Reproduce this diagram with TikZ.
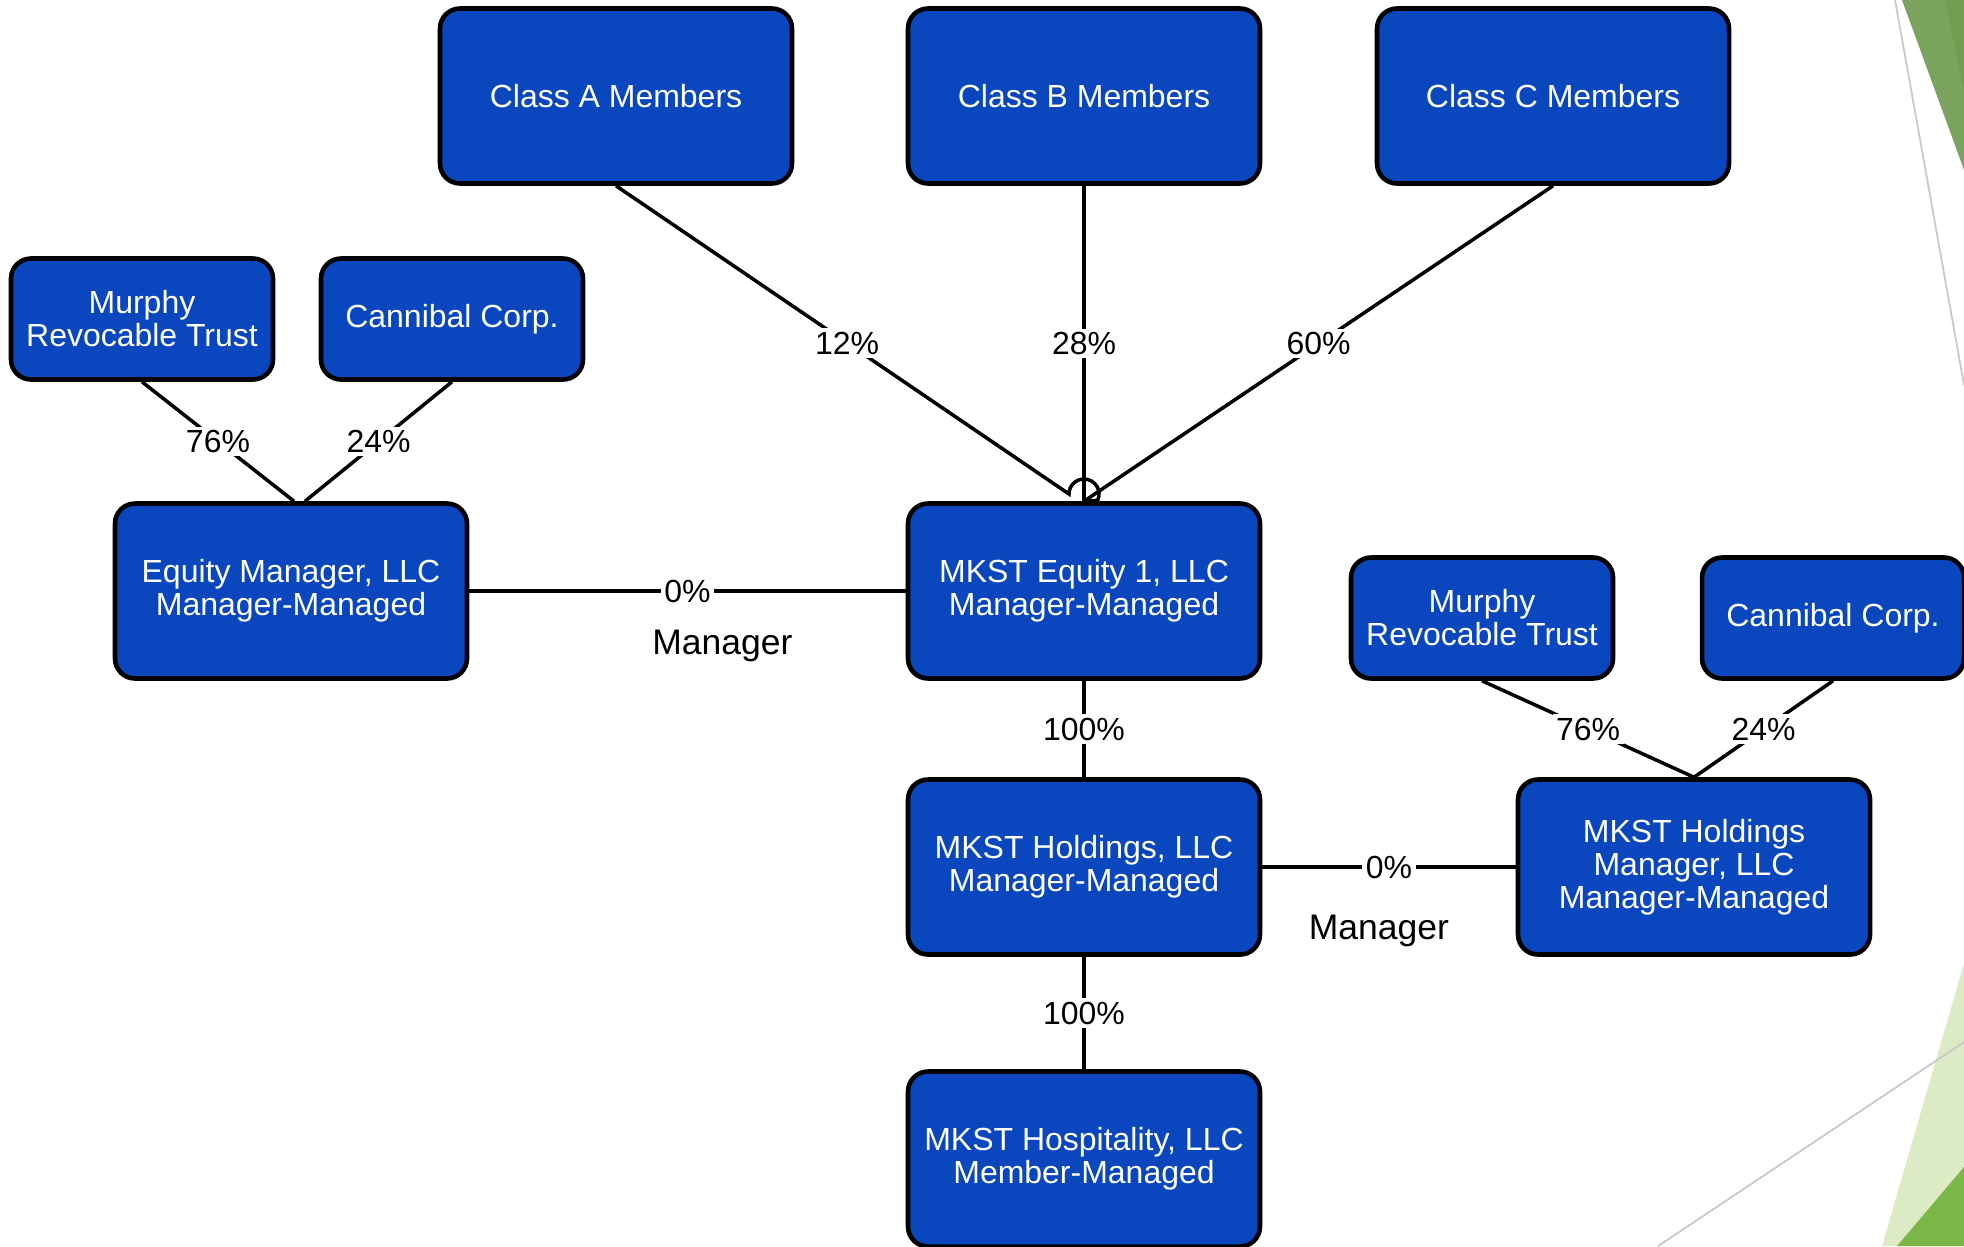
\documentclass[tikz,border=0pt]{standalone}
\usepackage{fontspec}
\setmainfont{Liberation Sans}
\usepackage{xcolor}
\usepackage{tikz}
\makeatletter
\renewcommand\small{%
  \@setfontsize\small{9.1pt}{9.4pt}%
}
\renewcommand\large{%
  \@setfontsize\large{10.1pt}{11pt}%
}
\makeatother
\definecolor{boxblue}{RGB}{10,70,190}
\definecolor{slidegreen}{RGB}{122,163,94}
\definecolor{slidegreenB}{RGB}{113,157,80}
\definecolor{palegreen}{RGB}{221,235,197}
\definecolor{leafgreen}{RGB}{122,182,72}
\definecolor{rulegray}{RGB}{200,200,200}

\begin{document}
\begin{tikzpicture}[every node/.style={font=\small},
  ent/.style={draw, line width=1.3pt, fill=boxblue, text=white, rounded corners=0.2cm, align=center, minimum width=3.52cm, minimum height=1.75cm},
  sment/.style={ent, minimum width=2.62cm, minimum height=1.21cm},
  pct/.style={fill=white, inner sep=1pt},
  link/.style={line width=1pt}]
  % slide background
  \useasboundingbox (0,0) rectangle (19.64,-12.46);
  \fill[white] (0,0) rectangle (19.64,-12.46);
  \fill[slidegreen] (19.02,0) -- (19.64,0) -- (19.64,-1.70) -- cycle;
  \fill[slidegreenB] (19.45,0) -- (19.64,0) -- (19.64,-0.90) -- cycle;
  \draw[rulegray, line width=0.5pt] (18.95,0) -- (19.64,-3.85);
  \fill[palegreen] (19.64,-9.63) -- (19.64,-12.46) -- (18.82,-12.46) -- cycle;
  \fill[leafgreen] (19.64,-11.67) -- (19.64,-12.46) -- (18.97,-12.46) -- cycle;
  \draw[rulegray, line width=0.5pt] (19.64,-10.42) -- (16.58,-12.46);

  % members
  \node[ent] (classa) at (6.16,-0.96) {Class A Members};
  \node[ent] (classb) at (10.84,-0.96) {Class B Members};
  \node[ent] (classc) at (15.53,-0.96) {Class C Members};
  \node[sment] (murphyl) at (1.42,-3.19) {Murphy\\Revocable Trust};
  \node[sment] (cannibl) at (4.52,-3.19) {Cannibal Corp.};
  \node[ent] (eqmgr) at (2.91,-5.91) {Equity Manager, LLC\\Manager-Managed};
  \node[ent] (equity1) at (10.84,-5.91) {MKST Equity 1, LLC\\Manager-Managed};
  \node[sment] (murphyr) at (14.82,-6.18) {Murphy\\Revocable Trust};
  \node[sment] (cannibr) at (18.33,-6.18) {Cannibal Corp.};
  \node[ent] (holdings) at (10.84,-8.67) {MKST Holdings, LLC\\Manager-Managed};
  \node[ent] (holdmgr) at (16.94,-8.67) {MKST Holdings\\Manager, LLC\\Manager-Managed};
  \node[ent] (hosp) at (10.84,-11.59) {MKST Hospitality, LLC\\Member-Managed};

  % ownership
  \coordinate (hop) at (10.69,-4.94);
  \draw[link] (classa.south) -- node[pct, pos=0.51] {12\%} (hop)
    arc[start angle=180, end angle=-25, radius=0.15] -- (equity1.north);
  \draw[link] (classb.south) -- node[pct] {28\%} (equity1.north);
  \draw[link] (classc.south) -- node[pct] {60\%} (equity1.north);
  \draw[link] (murphyl.south) -- node[pct] {76\%} ([xshift=0.03cm]eqmgr.north);
  \draw[link] (cannibl.south) -- node[pct] {24\%} ([xshift=0.14cm]eqmgr.north);
  \draw[link] (eqmgr) -- node[pct] {0\%}
    node[pos=0.58, yshift=-0.55cm, font=\large] {Manager} (equity1);
  \draw[link] (equity1) -- node[pct] {100\%} (holdings);
  \draw[link] (holdings) -- node[pct] {100\%} (hosp);
  \draw[link] (holdings) -- node[pct] {0\%}
    node[pos=0.46, yshift=-0.64cm, font=\large] {Manager} (holdmgr);
  \draw[link] (murphyr.south) -- node[pct] {76\%} (holdmgr.north);
  \draw[link] (cannibr.south) -- node[pct] {24\%} (holdmgr.north);
\end{tikzpicture}
\end{document}
